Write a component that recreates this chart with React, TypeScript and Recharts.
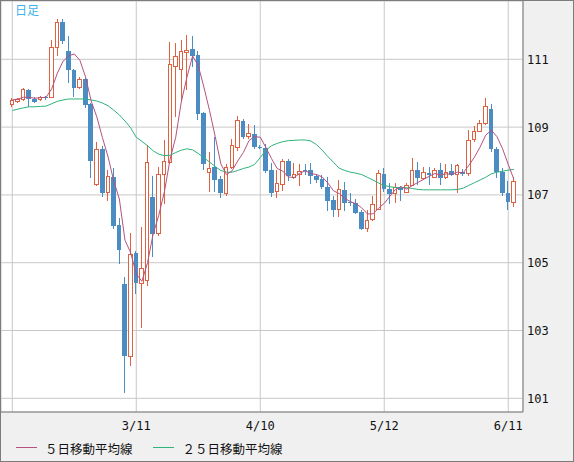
import React from 'react';
import { ComposedChart, Bar, Line, XAxis, YAxis, CartesianGrid } from 'recharts';

const dates = [
  '2/10','2/11','2/12','2/13','2/14','2/17','2/18','2/19','2/20','2/21',
  '2/24','2/25','2/26','2/27','2/28','3/2','3/3','3/4','3/5','3/6',
  '3/9','3/10','3/11','3/12','3/13','3/16','3/17','3/18','3/19','3/20',
  '3/23','3/24','3/25','3/26','3/27','3/30','3/31','4/1','4/2','4/3',
  '4/6','4/7','4/8','4/9','4/10','4/13','4/14','4/15','4/16','4/17',
  '4/20','4/21','4/22','4/23','4/24','4/27','4/28','4/29','4/30','5/1',
  '5/4','5/5','5/6','5/7','5/8','5/11','5/12','5/13','5/14','5/15',
  '5/18','5/19','5/20','5/21','5/22','5/25','5/26','5/27','5/28','5/29',
  '6/1','6/2','6/3','6/4','6/5','6/8','6/9','6/10','6/11','6/12',
];

const open = [
  109.67,109.77,109.80,110.10,109.83,109.81,109.90,109.87,111.35,112.09,
  111.24,110.69,110.16,110.41,109.67,107.32,108.34,107.07,107.54,106.12,
  104.38,102.24,105.28,104.40,104.48,106.95,105.86,107.59,107.96,110.79,
  110.70,111.19,111.30,111.12,109.41,107.67,107.82,107.47,107.05,107.80,
  108.39,109.18,108.72,108.80,108.42,108.39,107.72,107.10,107.32,107.99,
  107.52,107.59,107.74,107.72,107.57,107.47,107.24,106.86,106.58,107.15,
  106.78,106.75,106.51,106.02,106.26,106.58,107.62,107.18,107.03,107.20,
  107.07,107.29,107.72,107.49,107.64,107.52,107.72,107.52,107.70,107.59,
  107.67,107.62,108.62,108.88,109.10,109.54,108.36,107.67,107.07,106.78,
];

const high = [
  109.87,109.86,110.15,110.12,109.88,109.93,109.93,111.58,112.20,112.20,
  111.68,110.72,110.48,110.45,109.72,108.57,108.45,107.72,107.80,106.33,
  104.59,105.87,105.35,106.05,108.46,107.55,107.83,108.62,111.51,111.48,
  111.58,111.73,111.68,111.25,109.45,108.26,108.72,107.55,107.91,108.65,
  109.34,109.25,109.08,109.05,108.48,108.49,107.94,107.74,108.06,108.06,
  107.94,107.91,107.91,107.94,107.62,107.60,107.52,106.97,107.44,107.37,
  107.05,106.88,106.55,106.55,106.98,107.74,107.80,107.35,107.35,107.25,
  107.35,108.08,107.98,107.81,107.81,107.80,107.94,107.91,107.91,107.90,
  107.75,108.90,109.02,109.22,109.87,109.67,108.40,107.80,107.40,107.54,
];

const low = [
  109.60,109.72,109.76,109.58,109.70,109.78,109.79,109.85,111.10,111.44,
  110.30,109.88,110.12,109.55,107.49,107.25,106.93,106.81,106.00,104.97,
  101.16,101.95,104.08,103.08,104.30,105.17,105.80,106.73,107.90,109.29,
  109.74,110.08,110.77,109.20,107.74,107.10,107.08,106.91,106.98,107.75,
  108.30,108.66,108.65,108.35,108.35,107.65,106.95,106.91,107.12,107.42,
  107.48,107.27,107.59,107.32,107.35,107.18,106.53,106.36,106.36,106.53,
  106.68,106.45,105.96,105.92,106.24,106.55,107.10,106.73,106.75,106.83,
  107.05,107.25,107.30,107.45,107.30,107.50,107.30,107.48,107.55,107.06,
  107.55,107.55,108.55,108.85,109.05,108.26,107.50,106.98,106.55,106.63,
];

const close = [
  109.79,109.81,110.10,109.82,109.75,109.88,109.86,111.35,112.09,111.54,
  110.68,110.15,110.40,109.64,107.99,108.34,107.07,107.54,106.09,105.38,
  102.24,105.25,104.40,104.83,107.97,105.86,107.61,107.99,110.85,111.09,
  111.22,111.27,111.09,109.39,107.91,107.79,107.45,107.07,107.80,108.46,
  109.20,108.72,108.80,108.41,108.39,107.70,107.07,107.34,107.99,107.57,
  107.59,107.70,107.70,107.57,107.44,107.22,106.81,106.56,107.15,106.75,
  106.75,106.48,105.99,106.25,106.73,107.62,107.18,107.03,107.22,107.15,
  107.29,107.72,107.49,107.65,107.59,107.72,107.49,107.67,107.60,107.86,
  107.62,108.60,108.88,109.10,109.61,108.36,107.67,107.07,106.78,107.40,
];

const ma5 = [
  109.80,109.83,109.88,109.88,109.85,109.87,109.88,110.13,110.59,110.94,
  111.10,111.16,110.97,110.48,109.77,109.30,108.69,108.12,107.41,106.88,
  105.66,105.30,104.67,104.45,105.00,105.85,106.40,107.10,108.05,108.70,
  109.75,110.48,111.10,110.81,110.18,109.49,108.73,107.92,107.60,107.71,
  108.00,108.25,108.60,108.72,108.70,108.40,108.07,107.78,107.70,107.53,
  107.51,107.64,107.71,107.63,107.60,107.53,107.35,107.12,107.04,106.90,
  106.80,106.74,106.62,106.44,106.44,106.61,106.75,106.96,107.16,107.24,
  107.17,107.28,107.37,107.46,107.55,107.63,107.59,107.62,107.61,107.67,
  107.65,107.87,108.11,108.41,108.76,108.91,108.72,108.36,107.90,107.46,
];

const ma25 = [
  109.49,109.53,109.57,109.60,109.60,109.61,109.62,109.69,109.76,109.80,
  109.83,109.83,109.83,109.83,109.80,109.77,109.71,109.63,109.50,109.36,
  109.18,108.98,108.70,108.58,108.45,108.30,108.20,108.16,108.17,108.25,
  108.32,108.36,108.33,108.22,108.10,107.97,107.84,107.72,107.67,107.67,
  107.72,107.78,107.82,107.90,108.10,108.32,108.45,108.52,108.57,108.60,
  108.61,108.62,108.62,108.59,108.48,108.32,108.13,107.96,107.79,107.72,
  107.67,107.64,107.60,107.52,107.44,107.35,107.28,107.24,107.22,107.22,
  107.21,107.19,107.16,107.15,107.15,107.15,107.15,107.15,107.15,107.16,
  107.20,107.28,107.36,107.44,107.52,107.62,107.67,107.70,107.73,107.75,
];

const xTicks = [0, 22, 44, 66, 88];
const yTicks = [101, 103, 105, 107, 109, 111];
const legendLabels = ['５日移動平均線', '２５日移動平均線'];
const title = '日足';

const UP = '#de6240';
const DOWN = '#4b8cc3';
const MA5C = '#b5527f';
const MA25C = '#2fb37a';
const GRID = '#c8c8c8';
const BORDER = '#7c7c7c';
const MONO = '"DejaVu Sans Mono", monospace';
const CJK = '"Noto Sans CJK JP", sans-serif';

const data = dates.map((d, i) => ({
  i,
  date: d,
  range: [low[i], high[i]],
  o: open[i],
  h: high[i],
  l: low[i],
  c: close[i],
  ma5: ma5[i],
  ma25: ma25[i],
}));

const Candle = (props: any) => {
  const { x, y, width, height, payload } = props;
  if (x == null || y == null || !payload) return null;
  const top = Math.min(y, y + height);
  const bottom = Math.max(y, y + height);
  const { o, c, h, l } = payload;
  const span = h - l;
  const py = (v: number) => (span > 0 ? top + ((h - v) / span) * (bottom - top) : top);
  const cx = x + width / 2;
  const up = c >= o;
  const bTop = py(Math.max(o, c));
  const bBot = py(Math.min(o, c));
  const bh = Math.max(bBot - bTop, 1);
  if (up) {
    return (
      <g shapeRendering="crispEdges">
        <line x1={cx} x2={cx} y1={top} y2={bTop} stroke={UP} strokeWidth={1} />
        <line x1={cx} x2={cx} y1={bTop + bh} y2={bottom} stroke={UP} strokeWidth={1} />
        <rect x={cx - 1.75} y={bTop} width={3.5} height={bh} fill="#fff" stroke={UP} strokeWidth={1} />
      </g>
    );
  }
  return (
    <g shapeRendering="crispEdges">
      <line x1={cx} x2={cx} y1={top} y2={bottom} stroke={DOWN} strokeWidth={1} />
      <rect x={cx - 2.4} y={bTop} width={4.8} height={bh} fill={DOWN} />
    </g>
  );
};

const XTick = (p: any) => {
  const v = p.payload?.value;
  if (v === 0) return <g />;
  return (
    <text x={p.x} y={p.y + 18} textAnchor="middle" fontFamily={MONO} fontSize={12} fill="#111">
      {dates[v]}
    </text>
  );
};

const YTick = (p: any) => (
  <text x={p.x} y={p.y + 4.5} textAnchor="start" fontFamily={MONO} fontSize={12} fill="#111">
    {p.payload?.value}
  </text>
);

export default function App() {
  return (
    <div
      style={{
        position: 'absolute',
        left: 0,
        top: 0,
        width: 574,
        height: 462,
        boxSizing: 'border-box',
        border: `1px solid ${BORDER}`,
        background: '#f0f0f0',
        overflow: 'hidden',
      }}
    >
      <div style={{ position: 'absolute', left: -1, top: -1 }}>
        <ComposedChart width={574} height={462} data={data} margin={{ top: 1, right: 1, bottom: 30, left: 1 }}>
          <CartesianGrid stroke={GRID} fill="#ffffff" strokeWidth={1} />
          <XAxis
            dataKey="i"
            type="number"
            domain={[-2.0, 90.62]}
            allowDataOverflow
            ticks={xTicks}
            interval={0}
            height={20}
            tickSize={0}
            tickMargin={0}
            tick={<XTick />}
            axisLine={{ stroke: BORDER }}
            tickLine={false}
          />
          <YAxis
            orientation="right"
            type="number"
            domain={[100.596, 112.72]}
            allowDataOverflow
            ticks={yTicks}
            interval={0}
            width={50}
            tickSize={0}
            tickMargin={4}
            tick={<YTick />}
            axisLine={{ stroke: BORDER }}
            tickLine={false}
          />
          <Bar dataKey="range" barSize={5} shape={<Candle />} isAnimationActive={false} />
          <Line dataKey="ma25" type="linear" stroke={MA25C} strokeWidth={1} dot={false} activeDot={false} isAnimationActive={false} />
          <Line dataKey="ma5" type="linear" stroke={MA5C} strokeWidth={1} dot={false} activeDot={false} isAnimationActive={false} />
        </ComposedChart>
      </div>
      <span
        style={{
          position: 'absolute',
          left: 14,
          top: 3,
          fontFamily: CJK,
          fontSize: 12,
          lineHeight: '12px',
          color: '#3db3ea',
          whiteSpace: 'nowrap',
        }}
      >
        {title}
      </span>
      <div style={{ position: 'absolute', left: 15, top: 446, width: 21, height: 1, background: MA5C }} />
      <span
        style={{
          position: 'absolute',
          left: 44,
          top: 440.5,
          fontFamily: CJK,
          fontSize: 12.5,
          lineHeight: '13px',
          color: '#111',
          whiteSpace: 'nowrap',
        }}
      >
        {legendLabels[0]}
      </span>
      <div style={{ position: 'absolute', left: 152, top: 446, width: 21, height: 1, background: MA25C }} />
      <span
        style={{
          position: 'absolute',
          left: 181.5,
          top: 440.5,
          fontFamily: CJK,
          fontSize: 12.5,
          lineHeight: '13px',
          color: '#111',
          whiteSpace: 'nowrap',
        }}
      >
        {legendLabels[1]}
      </span>
    </div>
  );
}
